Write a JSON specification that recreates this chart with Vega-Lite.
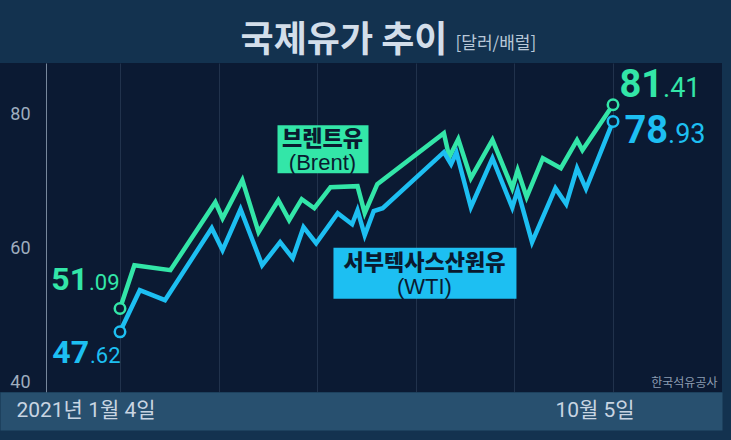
{
  "$schema": "https://vega.github.io/schema/vega-lite/v6.json",
  "width": 722,
  "height": 329,
  "autosize": {"type": "none"},
  "padding": {"left": 0, "top": 63, "right": 9, "bottom": 48},
  "background": "#13324f",
  "config": {
    "view": {"fill": "#0b1a33", "stroke": null},
    "font": "Noto Sans CJK KR"
  },
  "title": {
    "text": "국제유가 추이",
    "anchor": "middle",
    "frame": "group",
    "dx": -17,
    "offset": -54,
    "baseline": "alphabetic",
    "fontSize": 36,
    "fontWeight": "bold",
    "color": "#d3deea",
    "font": "Noto Sans CJK KR"
  },
  "datasets": {
    "prices": [
      {"date": "2021-01-04", "series": "Brent", "price": 51.09},
      {"date": "2021-01-12", "series": "Brent", "price": 57.53},
      {"date": "2021-02-01", "series": "Brent", "price": 56.79},
      {"date": "2021-02-26", "series": "Brent", "price": 66.90},
      {"date": "2021-03-02", "series": "Brent", "price": 64.52},
      {"date": "2021-03-13", "series": "Brent", "price": 70.18},
      {"date": "2021-03-22", "series": "Brent", "price": 62.44},
      {"date": "2021-04-02", "series": "Brent", "price": 67.20},
      {"date": "2021-04-08", "series": "Brent", "price": 64.23},
      {"date": "2021-04-15", "series": "Brent", "price": 67.35},
      {"date": "2021-04-22", "series": "Brent", "price": 66.01},
      {"date": "2021-05-01", "series": "Brent", "price": 69.14},
      {"date": "2021-05-16", "series": "Brent", "price": 69.29},
      {"date": "2021-05-20", "series": "Brent", "price": 65.27},
      {"date": "2021-05-27", "series": "Brent", "price": 69.58},
      {"date": "2021-07-03", "series": "Brent", "price": 77.17},
      {"date": "2021-07-06", "series": "Brent", "price": 73.60},
      {"date": "2021-07-11", "series": "Brent", "price": 76.28},
      {"date": "2021-07-18", "series": "Brent", "price": 70.48},
      {"date": "2021-07-30", "series": "Brent", "price": 76.18},
      {"date": "2021-08-10", "series": "Brent", "price": 68.99},
      {"date": "2021-08-13", "series": "Brent", "price": 71.67},
      {"date": "2021-08-18", "series": "Brent", "price": 67.65},
      {"date": "2021-08-27", "series": "Brent", "price": 73.45},
      {"date": "2021-09-06", "series": "Brent", "price": 71.96},
      {"date": "2021-09-15", "series": "Brent", "price": 76.13},
      {"date": "2021-09-18", "series": "Brent", "price": 74.64},
      {"date": "2021-10-05", "series": "Brent", "price": 81.41},
      {"date": "2021-01-04", "series": "WTI", "price": 47.62},
      {"date": "2021-01-15", "series": "WTI", "price": 53.81},
      {"date": "2021-01-29", "series": "WTI", "price": 52.32},
      {"date": "2021-02-24", "series": "WTI", "price": 63.04},
      {"date": "2021-03-02", "series": "WTI", "price": 59.76},
      {"date": "2021-03-12", "series": "WTI", "price": 65.86},
      {"date": "2021-03-24", "series": "WTI", "price": 57.53},
      {"date": "2021-04-03", "series": "WTI", "price": 60.95},
      {"date": "2021-04-10", "series": "WTI", "price": 58.57},
      {"date": "2021-04-16", "series": "WTI", "price": 63.18},
      {"date": "2021-04-23", "series": "WTI", "price": 60.80},
      {"date": "2021-05-05", "series": "WTI", "price": 65.27},
      {"date": "2021-05-13", "series": "WTI", "price": 63.63},
      {"date": "2021-05-16", "series": "WTI", "price": 65.71},
      {"date": "2021-05-20", "series": "WTI", "price": 61.99},
      {"date": "2021-05-25", "series": "WTI", "price": 65.57},
      {"date": "2021-05-30", "series": "WTI", "price": 66.01},
      {"date": "2021-07-03", "series": "WTI", "price": 74.35},
      {"date": "2021-07-07", "series": "WTI", "price": 72.56},
      {"date": "2021-07-10", "series": "WTI", "price": 74.30},
      {"date": "2021-07-18", "series": "WTI", "price": 66.16},
      {"date": "2021-07-30", "series": "WTI", "price": 73.45},
      {"date": "2021-08-10", "series": "WTI", "price": 66.10},
      {"date": "2021-08-13", "series": "WTI", "price": 68.69},
      {"date": "2021-08-21", "series": "WTI", "price": 60.95},
      {"date": "2021-09-03", "series": "WTI", "price": 68.99},
      {"date": "2021-09-09", "series": "WTI", "price": 66.61},
      {"date": "2021-09-15", "series": "WTI", "price": 71.96},
      {"date": "2021-09-20", "series": "WTI", "price": 68.90},
      {"date": "2021-10-05", "series": "WTI", "price": 78.93}
    ],
    "labels": [
      {"series": "Brent", "name": "브렌트유", "code": "(Brent)", "date": "2021-04-26T13:00:00Z", "price": 74.79},
      {"series": "WTI", "name": "서부텍사스산원유", "code": "(WTI)", "date": "2021-06-22T05:00:00Z", "price": 56.41}
    ]
  },
  "encoding": {
    "x": {
      "field": "date",
      "type": "temporal",
      "scale": {
        "type": "utc",
        "domain": [
          {"year": 2020, "month": 10, "date": 29, "hours": 7, "minutes": 26, "utc": true},
          {"year": 2021, "month": 12, "date": 4, "hours": 13, "minutes": 41, "utc": true}
        ]
      },
      "axis": {
        "orient": "bottom",
        "values": [
          {"year": 2020, "month": 11, "date": 23, "hours": 22, "utc": true},
          {"year": 2021, "month": 1, "date": 4, "utc": true},
          {"year": 2021, "month": 2, "date": 27, "hours": 19, "utc": true},
          {"year": 2021, "month": 4, "date": 23, "hours": 14, "utc": true},
          {"year": 2021, "month": 6, "date": 17, "hours": 10, "utc": true},
          {"year": 2021, "month": 8, "date": 11, "hours": 5, "utc": true},
          {"year": 2021, "month": 10, "date": 5, "utc": true}
        ],
        "offset": 19,
        "domainColor": "#28506f",
        "domainWidth": 38,
        "ticks": false,
        "labels": false,
        "grid": true,
        "gridColor": {"condition": {"test": "utcyear(datum.value) == 2020", "value": "#77879c"}, "value": "#21324c"},
        "gridWidth": 1,
        "title": "한국석유공사",
        "titleX": 717,
        "titleY": -29,
        "titleAlign": "right",
        "titleBaseline": "middle",
        "titleFont": "Noto Sans CJK KR",
        "titleFontSize": 12,
        "titleFontWeight": "normal",
        "titleColor": "#8d9db2"
      }
    },
    "y": {
      "field": "price",
      "type": "quantitative",
      "scale": {"domain": [38.66, 87.62], "nice": false, "zero": false},
      "axis": {
        "orient": "left",
        "values": [40, 60, 80],
        "offset": -30,
        "domain": false,
        "ticks": false,
        "grid": false,
        "labelPadding": 0,
        "labelFont": "Roboto",
        "labelFontSize": 18,
        "labelColor": "#9fadbf",
        "title": "[달러/배럴]",
        "titleAngle": 0,
        "titleX": 425,
        "titleY": -15,
        "titleAlign": "left",
        "titleBaseline": "alphabetic",
        "titleFont": "Noto Sans CJK KR",
        "titleFontSize": 17,
        "titleFontWeight": "normal",
        "titleColor": "#b9c8d8"
      }
    },
    "color": {
      "field": "series",
      "type": "nominal",
      "scale": {"domain": ["Brent", "WTI"], "range": ["#33e6a8", "#1dbff2"]},
      "legend": null
    }
  },
  "layer": [
    {
      "data": {"name": "prices"},
      "mark": {"type": "line", "strokeWidth": 4.5, "strokeJoin": "miter"}
    },
    {
      "data": {"name": "prices"},
      "transform": [
        {"filter": "time(datum.date) == time('2021-01-04') || time(datum.date) == time('2021-10-05')"}
      ],
      "mark": {"type": "point", "shape": "circle", "filled": false, "fill": "#0b1a33", "fillOpacity": 1, "size": 110, "strokeWidth": 2.5, "opacity": 1}
    },
    {
      "data": {"name": "prices"},
      "transform": [
        {"filter": "datum.series == 'Brent' && time(datum.date) == time('2021-01-04')"},
        {"calculate": "utcyear(datum.date) + '년 ' + (utcmonth(datum.date) + 1) + '월 ' + utcdate(datum.date) + '일'", "as": "day"}
      ],
      "mark": {"type": "text", "align": "center", "baseline": "alphabetic", "dx": -34, "dy": 25, "fontSize": 21, "font": "Roboto, Noto Sans CJK KR"},
      "encoding": {"y": {"value": "height"}, "text": {"field": "day", "type": "nominal"}, "color": {"value": "#c9d5e2"}}
    },
    {
      "data": {"name": "prices"},
      "transform": [
        {"filter": "datum.series == 'Brent' && time(datum.date) == time('2021-10-05')"},
        {"calculate": "(utcmonth(datum.date) + 1) + '월 ' + utcdate(datum.date) + '일'", "as": "day"}
      ],
      "mark": {"type": "text", "align": "center", "baseline": "alphabetic", "dx": -18, "dy": 25, "fontSize": 21, "font": "Roboto, Noto Sans CJK KR"},
      "encoding": {"y": {"value": "height"}, "text": {"field": "day", "type": "nominal"}, "color": {"value": "#c9d5e2"}}
    },
    {
      "data": {"name": "labels"},
      "transform": [{"filter": "datum.series == 'Brent'"}],
      "mark": {"type": "rect", "xOffset": -45, "x2Offset": 46, "yOffset": -24, "y2Offset": 24},
      "encoding": {"x2": {"field": "date"}, "y2": {"field": "price"}}
    },
    {
      "data": {"name": "labels"},
      "transform": [{"filter": "datum.series == 'WTI'"}],
      "mark": {"type": "rect", "xOffset": -91, "x2Offset": 92, "yOffset": -25, "y2Offset": 26},
      "encoding": {"x2": {"field": "date"}, "y2": {"field": "price"}}
    },
    {
      "data": {"name": "labels"},
      "mark": {"type": "text", "align": "center", "baseline": "middle", "dy": -10, "fontSize": 22, "fontWeight": 900, "font": "Noto Sans CJK KR"},
      "encoding": {"text": {"field": "name"}, "color": {"value": "#0a1a30"}}
    },
    {
      "data": {"name": "labels"},
      "mark": {"type": "text", "align": "center", "baseline": "middle", "dy": 14, "fontSize": 22, "font": "Liberation Sans, Noto Sans CJK KR"},
      "encoding": {"text": {"field": "code"}, "color": {"value": "#0a1a30"}}
    },
    {
      "data": {"name": "prices"},
      "transform": [
        {"filter": "datum.series == 'Brent' && time(datum.date) == time('2021-01-04')"},
        {"calculate": "floor(datum.price)", "as": "whole"}
      ],
      "mark": {"type": "text", "align": "right", "baseline": "alphabetic", "dx": -32, "dy": -18, "fontSize": 32, "fontWeight": "bold", "font": "Roboto"},
      "encoding": {"text": {"field": "whole", "type": "nominal"}}
    },
    {
      "data": {"name": "prices"},
      "transform": [
        {"filter": "datum.series == 'Brent' && time(datum.date) == time('2021-01-04')"},
        {"calculate": "'.' + slice(format(datum.price, '.2f'), -2)", "as": "frac"}
      ],
      "mark": {"type": "text", "align": "left", "baseline": "alphabetic", "dx": -31, "dy": -18, "fontSize": 22, "font": "Roboto"},
      "encoding": {"text": {"field": "frac", "type": "nominal"}}
    },
    {
      "data": {"name": "prices"},
      "transform": [
        {"filter": "datum.series == 'WTI' && time(datum.date) == time('2021-01-04')"},
        {"calculate": "floor(datum.price)", "as": "whole"}
      ],
      "mark": {"type": "text", "align": "right", "baseline": "alphabetic", "dx": -31, "dy": 31, "fontSize": 32, "fontWeight": "bold", "font": "Roboto"},
      "encoding": {"text": {"field": "whole", "type": "nominal"}}
    },
    {
      "data": {"name": "prices"},
      "transform": [
        {"filter": "datum.series == 'WTI' && time(datum.date) == time('2021-01-04')"},
        {"calculate": "'.' + slice(format(datum.price, '.2f'), -2)", "as": "frac"}
      ],
      "mark": {"type": "text", "align": "left", "baseline": "alphabetic", "dx": -30, "dy": 31, "fontSize": 22, "font": "Roboto"},
      "encoding": {"text": {"field": "frac", "type": "nominal"}}
    },
    {
      "data": {"name": "prices"},
      "transform": [
        {"filter": "datum.series == 'Brent' && time(datum.date) == time('2021-10-05')"},
        {"calculate": "floor(datum.price)", "as": "whole"}
      ],
      "mark": {"type": "text", "align": "right", "baseline": "alphabetic", "dx": 50, "dy": -8, "fontSize": 38, "fontWeight": "bold", "font": "Roboto"},
      "encoding": {"text": {"field": "whole", "type": "nominal"}}
    },
    {
      "data": {"name": "prices"},
      "transform": [
        {"filter": "datum.series == 'Brent' && time(datum.date) == time('2021-10-05')"},
        {"calculate": "'.' + slice(format(datum.price, '.2f'), -2)", "as": "frac"}
      ],
      "mark": {"type": "text", "align": "left", "baseline": "alphabetic", "dx": 50, "dy": -8, "fontSize": 27, "font": "Roboto"},
      "encoding": {"text": {"field": "frac", "type": "nominal"}}
    },
    {
      "data": {"name": "prices"},
      "transform": [
        {"filter": "datum.series == 'WTI' && time(datum.date) == time('2021-10-05')"},
        {"calculate": "floor(datum.price)", "as": "whole"}
      ],
      "mark": {"type": "text", "align": "right", "baseline": "alphabetic", "dx": 55, "dy": 22, "fontSize": 38, "fontWeight": "bold", "font": "Roboto"},
      "encoding": {"text": {"field": "whole", "type": "nominal"}}
    },
    {
      "data": {"name": "prices"},
      "transform": [
        {"filter": "datum.series == 'WTI' && time(datum.date) == time('2021-10-05')"},
        {"calculate": "'.' + slice(format(datum.price, '.2f'), -2)", "as": "frac"}
      ],
      "mark": {"type": "text", "align": "left", "baseline": "alphabetic", "dx": 55, "dy": 22, "fontSize": 27, "font": "Roboto"},
      "encoding": {"text": {"field": "frac", "type": "nominal"}}
    }
  ]
}
